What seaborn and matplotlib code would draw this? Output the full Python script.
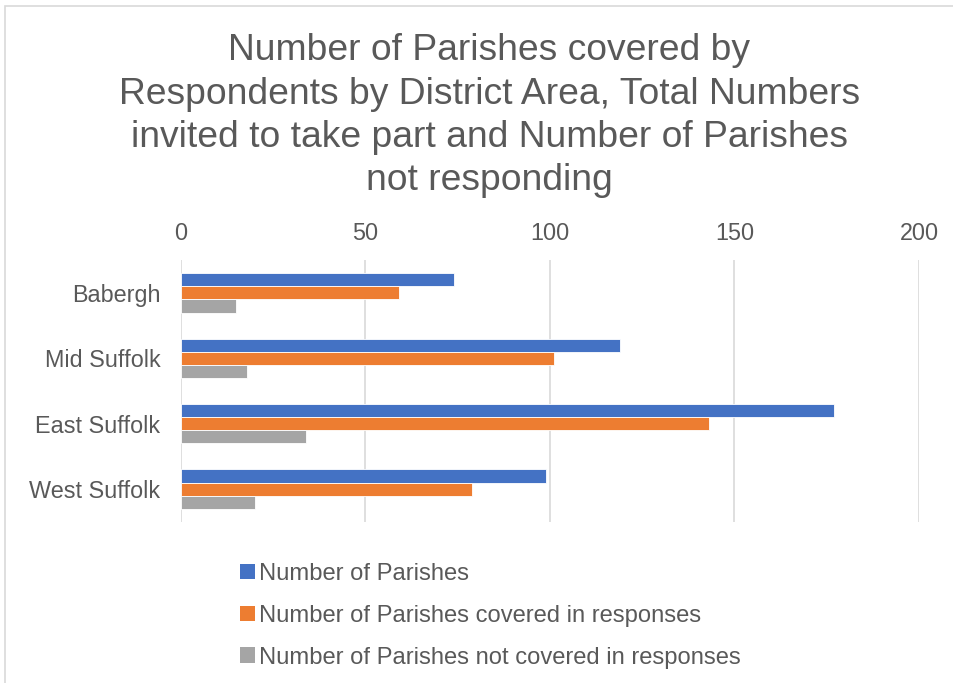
import matplotlib
matplotlib.use("Agg")
import matplotlib.pyplot as plt
import seaborn as sns
import pandas as pd
from matplotlib.patches import Patch

districts = ["Babergh", "Mid Suffolk", "East Suffolk", "West Suffolk"]
series_names = ["Number of Parishes",
                "Number of Parishes covered in responses",
                "Number of Parishes not covered in responses"]
parishes = [74, 119, 177, 99]
covered = [59, 101, 143, 79]
not_covered = [15, 18, 34, 20]
x_ticks = [0, 50, 100, 150, 200]
colors = ["#4472C4", "#ED7D31", "#A5A5A5"]
title = ("Number of Parishes covered by\nRespondents by District Area, Total Numbers\n"
         "invited to take part and Number of Parishes\nnot responding")

rows = []
for name, vals in zip(series_names, [parishes, covered, not_covered]):
    for d, v in zip(districts, vals):
        rows.append({"District": d, "Series": name, "Value": v})
df = pd.DataFrame(rows)

sns.set_theme(style="white")
plt.rcParams["font.family"] = ["Liberation Sans", "DejaVu Sans"]
text_color = "#595959"

fig = plt.figure(figsize=(9.54, 6.83), dpi=100)
ax = fig.add_axes([0.1897, 0.236, 0.9633 - 0.1897, 0.619 - 0.236])

sns.barplot(data=df, y="District", x="Value", hue="Series", order=districts,
            hue_order=series_names, palette=colors, orient="h", width=0.6,
            ax=ax, legend=False, edgecolor="white", linewidth=0.6, saturation=1)

ax.set_xlim(0, 200)
ax.set_xticks(x_ticks)
ax.xaxis.tick_top()
ax.tick_params(axis="both", length=0, labelsize=16.8, labelcolor=text_color)
ax.tick_params(axis="y", pad=15)
ax.tick_params(axis="x", pad=11)
ax.set_xlabel("")
ax.set_ylabel("")
for s in ax.spines.values():
    s.set_visible(False)
ax.grid(axis="x", color="#D9D9D9", linewidth=1.2)
ax.set_axisbelow(True)

fig.text(0.513, 0.951, title, ha="center", va="top", fontsize=26.8,
         color=text_color, linespacing=1.3)

handles = [Patch(facecolor=c, edgecolor="none") for c in colors]
fig.legend(handles, series_names, loc="upper left", bbox_to_anchor=(0.2516, 0.176),
           frameon=False, fontsize=17.1, labelcolor=text_color, handlelength=0.64,
           handleheight=0.64, handletextpad=0.15, labelspacing=0.84, borderaxespad=0,
           borderpad=0)

border = plt.Rectangle((0.005, -0.05), 1.2, 1.041, transform=fig.transFigure,
                       fill=False, edgecolor="#D9D9D9", linewidth=1.2)
fig.patches.append(border)

fig.savefig("out.png", dpi=100)
